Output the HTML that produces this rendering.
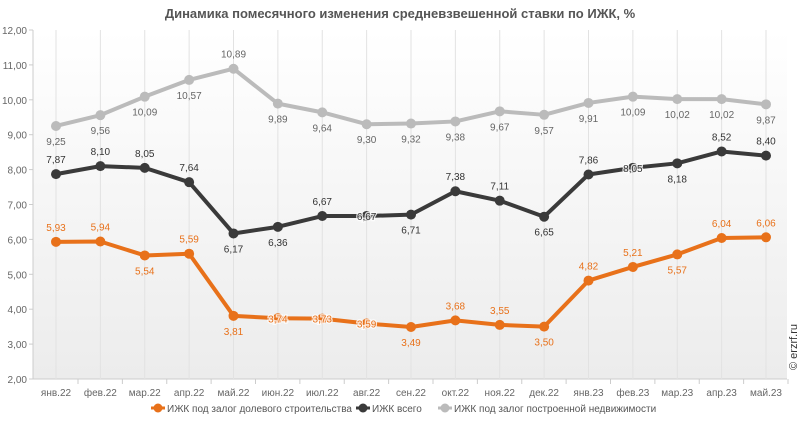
<!DOCTYPE html>
<html><head><meta charset="utf-8"><style>
body{margin:0;background:#fff;font-family:"Liberation Sans",sans-serif;}
</style></head><body>
<svg id="c" width="800" height="419" xmlns="http://www.w3.org/2000/svg" font-family="Liberation Sans, sans-serif">
<defs><linearGradient id="g" x1="0" y1="0" x2="0" y2="1"><stop offset="0" stop-color="#ffffff"/><stop offset="1" stop-color="#ececec"/></linearGradient></defs>
<rect x="33" y="30" width="754" height="349" fill="url(#g)"/>
<text x="400" y="18" text-anchor="middle" font-size="13" font-weight="bold" fill="#555">Динамика помесячного изменения средневзвешенной ставки по ИЖК, %</text>
<text transform="translate(797,370) rotate(-90)" font-size="11" fill="#333">© erzrf.ru</text>
</svg>
<script>
const svg=document.getElementById('c'),NS='http://www.w3.org/2000/svg';
function el(t,a,txt){const e=document.createElementNS(NS,t);for(const k in a)e.setAttribute(k,a[k]);if(txt!=null)e.textContent=txt;svg.appendChild(e);return e;}
const Y=v=>379-(v-2)*34.9, X=i=>56+i*44.375;
for(let v=2;v<=12;v++){el('line',{x1:29,x2:33,y1:Y(v),y2:Y(v),stroke:'#ccc'});el('text',{x:27,y:Y(v)+4,'text-anchor':'end','font-size':10,fill:'#666'},v+',00');}
el('line',{x1:33,x2:33,y1:30,y2:379,stroke:'#ccc'});el('line',{x1:33,x2:787,y1:379,y2:379,stroke:'#ccc'});
const m=['янв.22','фев.22','мар.22','апр.22','май.22','июн.22','июл.22','авг.22','сен.22','окт.22','ноя.22','дек.22','янв.23','фев.23','мар.23','апр.23','май.23'];
m.forEach((s,i)=>{el('line',{x1:X(i),x2:X(i),y1:30,y2:379,stroke:'#e2e2e2'});el('line',{x1:X(i)+22,x2:X(i)+22,y1:379,y2:384,stroke:'#ccc'});el('text',{x:X(i),y:396,'text-anchor':'middle','font-size':10,fill:'#666'},s);});
const S=[
 {c:'#bbbbbb',tc:'#666',d:[9.25,9.56,10.09,10.57,10.89,9.89,9.64,9.30,9.32,9.38,9.67,9.57,9.91,10.09,10.02,10.02,9.87],p:'bbbbabbbbbbbbbbbb'},
 {c:'#3a3a3a',tc:'#333',d:[7.87,8.10,8.05,7.64,6.17,6.36,6.67,6.67,6.71,7.38,7.11,6.65,7.86,8.05,8.18,8.52,8.40],p:'aaaabbaobaabaobaa'},
 {c:'#e8711a',tc:'#e8711a',d:[5.93,5.94,5.54,5.59,3.81,3.74,3.73,3.59,3.49,3.68,3.55,3.50,4.82,5.21,5.57,6.04,6.06],p:'aababoooba abaabaa'.replace(' ','')}
];
S.forEach(s=>{
 el('polyline',{points:s.d.map((v,i)=>X(i)+','+Y(v)).join(' '),fill:'none',stroke:s.c,'stroke-width':4,'stroke-linejoin':'round'});
 s.d.forEach((v,i)=>{el('circle',{cx:X(i),cy:Y(v),r:5,fill:s.c});});
});
S.forEach(s=>{
 s.d.forEach((v,i)=>{const p=s.p[i];const dy=p=='a'?-11:p=='b'?19:4;
  el('text',{x:X(i),y:Y(v)+dy,'text-anchor':'middle','font-size':10,fill:s.tc,stroke:'#fff','stroke-width':p=='o'?2.5:0,'paint-order':'stroke','stroke-opacity':0.8},v.toFixed(2).replace('.',','));});
});
const L=[[158,'#e8711a','ИЖК под залог долевого строительства'],[363,'#3a3a3a','ИЖК всего'],[445,'#bbbbbb','ИЖК под залог построенной недвижимости']];
L.forEach(([x,c,t])=>{el('line',{x1:x-7,x2:x+7,y1:408,y2:408,stroke:c,'stroke-width':3});el('circle',{cx:x,cy:408,r:4.5,fill:c});el('text',{x:x+9,y:412,'font-size':10,fill:'#555'},t);});
</script>
</body></html>
